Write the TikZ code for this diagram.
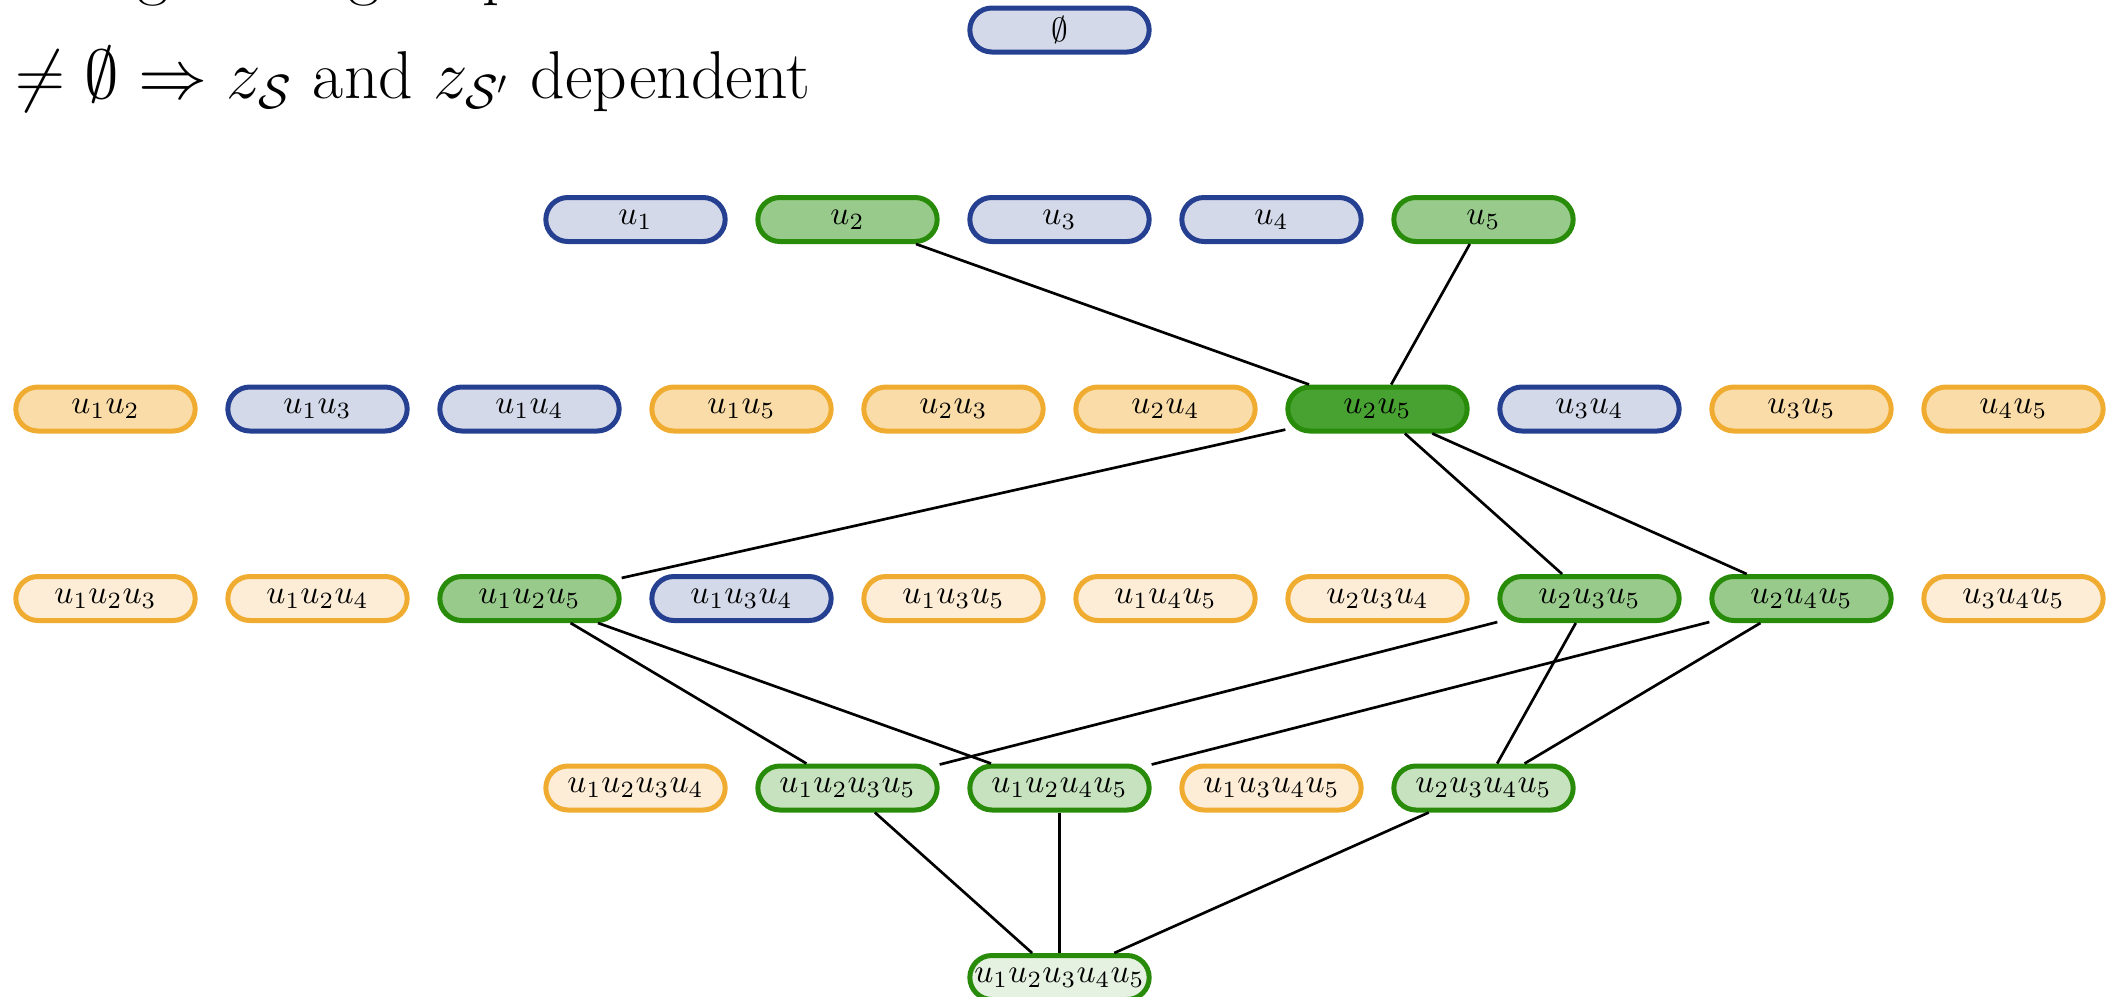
\documentclass[tikz,border=0pt]{standalone}
\begin{document}
\begin{tikzpicture}[x=0.3pt,y=-0.3pt,
  set/.style={draw, rounded corners=6.6pt, minimum width=53.8pt, minimum height=13.2pt,
    inner sep=0pt, line width=1.5pt, font=\fontsize{10.2}{12}\selectfont},
  bset/.style={set, draw=bluedraw, fill=bluefill},
  oset/.style={set, draw=orangedraw, fill=orangefill},
  olset/.style={set, draw=orangedraw, fill=orangelight},
  gset/.style={set, draw=greendraw, fill=greenfill},
  gdset/.style={set, draw=greendraw, fill=greendark},
  gmset/.style={set, draw=greendraw, fill=greenmid},
  glset/.style={set, draw=greendraw, fill=greenlight},
  link/.style={line width=0.8pt, black},
  big/.style={inner sep=0pt, font=\fontsize{20.3}{24}\selectfont}]
\definecolor{bluedraw}{RGB}{38,64,145}
\definecolor{bluefill}{RGB}{212,217,233}
\definecolor{orangedraw}{RGB}{240,172,48}
\definecolor{orangefill}{RGB}{250,220,168}
\definecolor{orangelight}{RGB}{253,237,214}
\definecolor{greendraw}{RGB}{40,140,10}
\definecolor{greenfill}{RGB}{152,203,139}
\definecolor{greendark}{RGB}{72,162,50}
\definecolor{greenmid}{RGB}{198,226,190}
\definecolor{greenlight}{RGB}{229,241,225}
\useasboundingbox (0,0) rectangle (2115,996);
\clip (0,0) rectangle (2115,996);

% heading text (previous line runs off the top edge)
\node[big, anchor=base] (ga) at (153,-8) {g};
\node[big, anchor=base] (gb) at (364,-8) {g};
\node[big, anchor=base] (pa) at (500,-8) {p};
\node[big, anchor=base west] (claim) at (15,98)
  {$\neq\emptyset\Rightarrow z_{\mathcal{S}}$ and $z_{\mathcal{S}'}$ dependent};

% level 0
\node[bset] (s0) at (1059.5,30) {$\emptyset$};

% level 1
\node[bset] (s1) at (635.5,219.5) {$u_1$};
\node[gset] (s2) at (847.5,219.5) {$u_2$};
\node[bset] (s3) at (1059.5,219.5) {$u_3$};
\node[bset] (s4) at (1271.5,219.5) {$u_4$};
\node[gset] (s5) at (1483.5,219.5) {$u_5$};

% level 2
\node[oset]  (s12) at (105.5,409)  {$u_1u_2$};
\node[bset]  (s13) at (317.5,409)  {$u_1u_3$};
\node[bset]  (s14) at (529.5,409)  {$u_1u_4$};
\node[oset]  (s15) at (741.5,409)  {$u_1u_5$};
\node[oset]  (s23) at (953.5,409)  {$u_2u_3$};
\node[oset]  (s24) at (1165.5,409) {$u_2u_4$};
\node[gdset] (s25) at (1377.5,409) {$u_2u_5$};
\node[bset]  (s34) at (1589.5,409) {$u_3u_4$};
\node[oset]  (s35) at (1801.5,409) {$u_3u_5$};
\node[oset]  (s45) at (2013.5,409) {$u_4u_5$};

% level 3
\node[olset] (s123) at (105.5,598.5)  {$u_1u_2u_3$};
\node[olset] (s124) at (317.5,598.5)  {$u_1u_2u_4$};
\node[gset]  (s125) at (529.5,598.5)  {$u_1u_2u_5$};
\node[bset]  (s134) at (741.5,598.5)  {$u_1u_3u_4$};
\node[olset] (s135) at (953.5,598.5)  {$u_1u_3u_5$};
\node[olset] (s145) at (1165.5,598.5) {$u_1u_4u_5$};
\node[olset] (s234) at (1377.5,598.5) {$u_2u_3u_4$};
\node[gset]  (s235) at (1589.5,598.5) {$u_2u_3u_5$};
\node[gset]  (s245) at (1801.5,598.5) {$u_2u_4u_5$};
\node[olset] (s345) at (2013.5,598.5) {$u_3u_4u_5$};

% level 4
\node[olset] (s1234) at (635.5,788)  {$u_1u_2u_3u_4$};
\node[gmset] (s1235) at (847.5,788)  {$u_1u_2u_3u_5$};
\node[gmset] (s1245) at (1059.5,788) {$u_1u_2u_4u_5$};
\node[olset] (s1345) at (1271.5,788) {$u_1u_3u_4u_5$};
\node[gmset] (s2345) at (1483.5,788) {$u_2u_3u_4u_5$};

% level 5
\node[glset] (s12345) at (1059.5,977.5) {$u_1u_2u_3u_4u_5$};

% supersets of u2u5
\draw[link] (s2) -- (s25);
\draw[link] (s5) -- (s25);
\draw[link] (s25) -- (s125);
\draw[link] (s25) -- (s235);
\draw[link] (s25) -- (s245);
\draw[link] (s125) -- (s1235);
\draw[link] (s125) -- (s1245);
\draw[link] (s235) -- (s1235);
\draw[link] (s235) -- (s2345);
\draw[link] (s245) -- (s1245);
\draw[link] (s245) -- (s2345);
\draw[link] (s1235) -- (s12345);
\draw[link] (s1245) -- (s12345);
\draw[link] (s2345) -- (s12345);
\end{tikzpicture}
\end{document}
